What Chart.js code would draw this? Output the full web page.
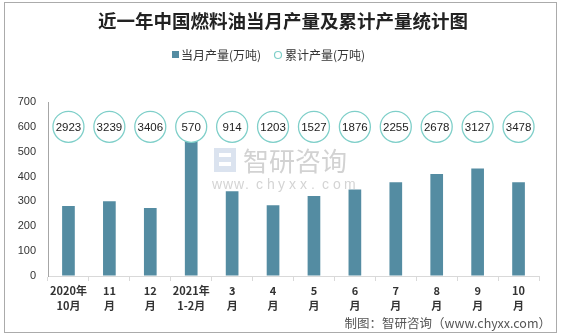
<!DOCTYPE html>
<html>
<head>
<meta charset="utf-8">
<script src="https://cdn.jsdelivr.net/npm/chart.js@4.4.0/dist/chart.umd.min.js"></script>
<style>
  html, body { margin: 0; padding: 0; background: #fff; }
  #wrap { width: 562px; height: 336px; }
</style>
</head>
<body>
<div id="wrap"><canvas id="chart" width="562" height="336"></canvas></div>
<script>
const months = [
  ["2020年", "10月"], ["11", "月"], ["12", "月"], ["2021年", "1-2月"],
  ["3", "月"], ["4", "月"], ["5", "月"], ["6", "月"],
  ["7", "月"], ["8", "月"], ["9", "月"], ["10", "月"]
];
const monthly = [282, 301, 274, 570, 341, 285, 322, 348, 377, 410, 432, 377];
const cumulative = [2923, 3239, 3406, 570, 914, 1203, 1527, 1876, 2255, 2678, 3127, 3478];
// circles sit in one row at the 600 level of the axis
const circleRow = months.map(() => 600);
const yTicks = [0, 100, 200, 300, 400, 500, 600, 700];

const BAR = "#548ca2";
const RING = "#7fcfc9";
const CJK = '"Noto Sans CJK SC", "Liberation Sans", sans-serif';

const decor = {
  id: "decor",
  beforeDatasetsDraw(chart) {
    const ctx = chart.ctx;
    ctx.save();
    // watermark
    ctx.fillStyle = "#dbe3ef";
    ctx.fillRect(214, 148, 22, 24);
    ctx.fillStyle = "#fff";
    ctx.fillRect(219, 153, 12, 4);
    ctx.fillRect(219, 162, 12, 4);
    ctx.fillStyle = "#d2d2d2";
    ctx.font = "26px " + CJK;
    ctx.textBaseline = "middle";
    ctx.fillText("智研咨询", 243, 161);
    ctx.font = "14px 'Liberation Sans', sans-serif";
    ctx.fillStyle = "#d4d4d4";
    "www.chyxx.com".split("").forEach((c, i) => ctx.fillText(c, 212 + i * 11, 185));
    ctx.restore();
  },
  afterDatasetsDraw(chart) {
    const ctx = chart.ctx;
    const meta = chart.getDatasetMeta(0);
    ctx.save();
    ctx.fillStyle = "#222";
    ctx.font = "11.5px 'Liberation Sans', sans-serif";
    ctx.textAlign = "center";
    ctx.textBaseline = "middle";
    meta.data.forEach((pt, i) => ctx.fillText(String(cumulative[i]), pt.x, pt.y + 1));
    ctx.restore();
  },
  afterDraw(chart) {
    const ctx = chart.ctx;
    ctx.save();
    // frame
    ctx.strokeStyle = "#ababab";
    ctx.lineWidth = 1;
    ctx.strokeRect(4.5, 2.5, 552, 330);
    // title
    ctx.fillStyle = "#222";
    ctx.font = "bold 18.5px " + CJK;
    ctx.textAlign = "center";
    ctx.textBaseline = "middle";
    ctx.fillText("近一年中国燃料油当月产量及累计产量统计图", 283, 21);
    // legend
    ctx.textAlign = "left";
    ctx.font = "12px " + CJK;
    ctx.fillStyle = BAR;
    ctx.fillRect(172, 51, 7, 7);
    ctx.fillStyle = "#333";
    ctx.fillText("当月产量(万吨)", 181, 55);
    ctx.beginPath();
    ctx.arc(278, 55, 3.5, 0, Math.PI * 2);
    ctx.strokeStyle = RING;
    ctx.lineWidth = 1.2;
    ctx.stroke();
    ctx.fillText("累计产量(万吨)", 285, 55);
    // source
    ctx.textAlign = "right";
    ctx.fillStyle = "#555";
    ctx.font = "12.5px " + CJK;
    ctx.fillText("制图：智研咨询（www.chyxx.com）", 551, 323);
    ctx.restore();
  }
};

new Chart(document.getElementById("chart"), {
  type: "bar",
  data: {
    labels: months,
    datasets: [
      {
        type: "line",
        label: "累计产量(万吨)",
        data: circleRow,
        showLine: false,
        order: 0,
        pointRadius: 15.5,
        pointHoverRadius: 15.5,
        pointBackgroundColor: "#fff",
        pointBorderColor: RING,
        pointBorderWidth: 1.3
      },
      {
        label: "当月产量(万吨)",
        data: monthly,
        order: 1,
        backgroundColor: BAR,
        barPercentage: 0.62,
        categoryPercentage: 0.5
      }
    ]
  },
  options: {
    responsive: false,
    animation: false,
    layout: { padding: { top: 102, right: 23, bottom: 0, left: 0 } },
    plugins: {
      legend: { display: false },
      tooltip: { enabled: false }
    },
    scales: {
      x: {
        offset: true,
        afterFit(scale) { scale.height = 60; },
        grid: { offset: true, drawOnChartArea: false, color: "#d9d9d9", tickLength: 5 },
        border: { color: "#d9d9d9" },
        ticks: {
          color: "#333",
          padding: 3,
          maxRotation: 0,
          autoSkip: false,
          font: { family: CJK, size: 11, weight: "bold", lineHeight: 1.3 }
        }
      },
      y: {
        min: 0,
        max: 700,
        afterFit(scale) { scale.width = 48; },
        afterBuildTicks(scale) { scale.ticks = yTicks.map(v => ({ value: v })); },
        grid: { drawOnChartArea: false, drawTicks: false },
        border: { color: "#a6a6a6" },
        ticks: {
          color: "#333",
          padding: 12,
          font: { family: "'Liberation Sans', sans-serif", size: 11 }
        }
      }
    }
  },
  plugins: [decor]
});
</script>
</body>
</html>
